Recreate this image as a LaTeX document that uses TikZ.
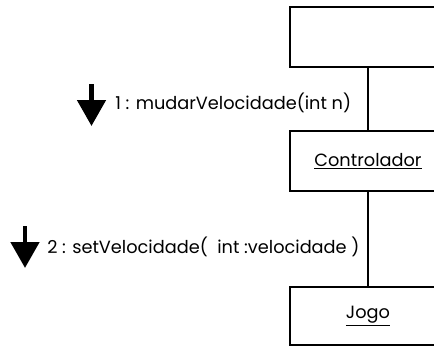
\documentclass[tikz,border=0pt]{standalone}
\usepackage{fontspec}
\setmainfont{Poppins}
\usetikzlibrary{arrows.meta}
\tikzset{
	obj/.style={draw, line width=1.2pt, minimum width=117pt, minimum height=45pt, inner sep=0pt, font=\fontsize{13.3}{15}\selectfont},
	link/.style={line width=1.2pt},
	msg/.style={line width=3.6pt, -{Triangle[length=19.5pt,width=21pt]}},
	lbl/.style={anchor=west, inner sep=0pt, font=\fontsize{13.3}{15}\selectfont}
}

\begin{document}
\begin{tikzpicture}[x=0.75pt, y=-0.75pt]
	\useasboundingbox[clip] (0,0) rectangle (434,347);
	\node[obj] (top) at (368,37) {};
	\node[obj] (ctrl) at (368,161) {\underline{Controlador}};
	\node[obj, minimum height=43.5pt] (jogo) at (368,316) {\underline{Jogo}};
	%
	\draw [link] (top) to (ctrl);
	\draw [link] (ctrl) to (jogo);
	%
	\coordinate (m1a) at (91.5,84);
	\coordinate (m1b) at (91.5,126);
	\coordinate (m2a) at (25,226);
	\coordinate (m2b) at (25,268);
	\draw [msg] (m1a) to (m1b);
	\draw [msg] (m2a) to (m2b);
	\node[lbl] (l1) at (115,103) {1 : mudarVelocidade(int n)};
	\node[lbl] (l2) at (47,247) {2 : setVelocidade(\ \ int :velocidade )};
\end{tikzpicture}
\end{document}
